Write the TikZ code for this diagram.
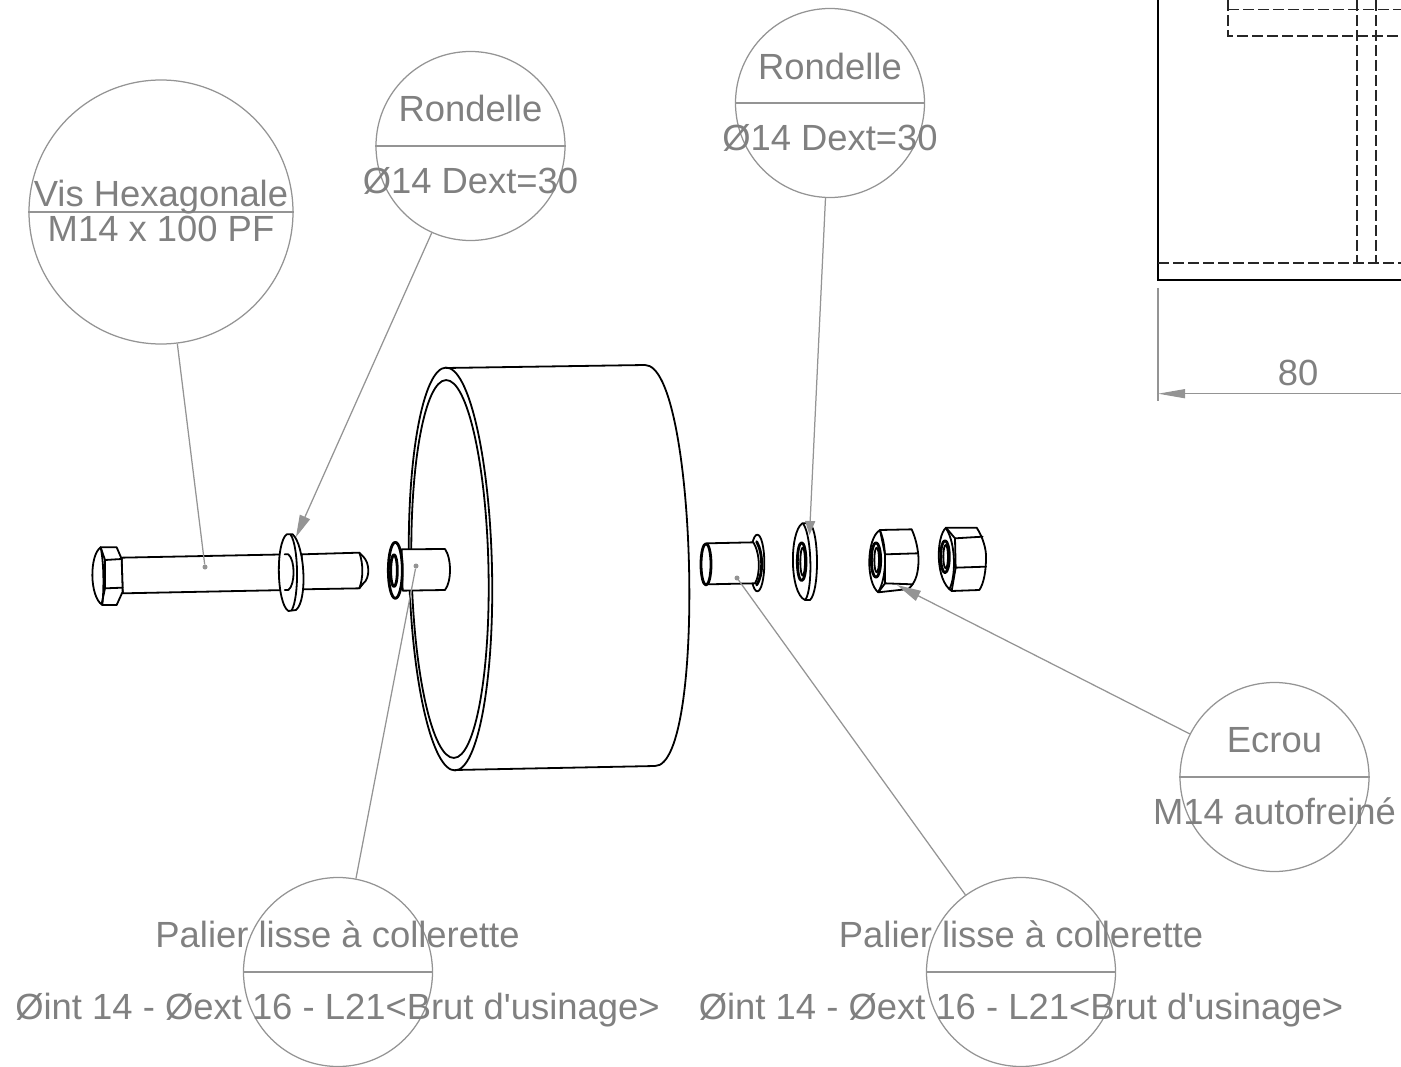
\documentclass[tikz,border=0pt]{standalone}
\usepackage{fontspec}
\setmainfont{Liberation Sans}
\usetikzlibrary{arrows.meta}
\definecolor{leadgrey}{HTML}{949494}
\definecolor{txtgrey}{HTML}{808080}
\tikzset{
  lead/.style={draw=leadgrey,line width=1.25pt},
  tiplead/.style={lead,-{Triangle[length=22pt,width=11pt,fill=leadgrey]}},
  bubble/.style={circle,draw=leadgrey,line width=1.25pt,inner sep=0pt,minimum size=#1},
  txt/.style={text=txtgrey,font=\fontsize{36.4}{36.4}\selectfont,anchor=base,inner sep=0pt},
  dotmark/.style={circle,fill=leadgrey,inner sep=0pt,minimum size=5pt},
  part/.style={draw=black,line width=1.8pt,line join=round,line cap=round},
  partf/.style={part,fill=white},
  heavy/.style={part,line width=2.8pt},
  hidden/.style={draw=black!85,line width=1.3pt,dash pattern=on 11pt off 4pt},
  zoomA/.style={shift={(80,500)},x=0.33333pt,y=-0.33333pt},
  zoomB/.style={shift={(690,500)},x=0.33333pt,y=-0.33333pt},
}
\begin{document}
\begin{tikzpicture}[x=1pt,y=-1pt]
\useasboundingbox (0,0) rectangle (1401,1067);
% ---- bubbles
\node[bubble=264pt] (cV) at (161,212) {};
\node[bubble=189pt] (cR1) at (470.5,146) {};
\node[bubble=189pt] (cR2) at (830,103) {};
\node[bubble=189pt] (cE) at (1274.5,777) {};
\node[bubble=189pt] (cP1) at (338,972) {};
\node[bubble=189pt] (cP2) at (1021,972) {};
\draw[lead] (cV.west) -- (cV.east);
\draw[lead] (cR1.west) -- (cR1.east);
\draw[lead] (cR2.west) -- (cR2.east);
\draw[lead] (cE.west) -- (cE.east);
\draw[lead] (cP1.west) -- (cP1.east);
\draw[lead] (cP2.west) -- (cP2.east);
% ---- arrow running under the washer
\coordinate (tR1) at (296,537);
\draw[tiplead] (cR1) -- (tR1);
% ---- drum
\draw[part] (446,368) -- (645,365) .. controls (697,365) and (707,766) .. (655,766) -- (455,770);
\draw[part] (450.5,569) ellipse [x radius=41.5,y radius=201.5,rotate=1.3];
\draw[part] (450,569) ellipse [x radius=38.5,y radius=189,rotate=1.2];
% ---- bolt
\begin{scope}[zoomA]
  \path[partf] (125,173) -- (625,163) -- (625,270) -- (128,280) -- cycle;
  \path[partf] (62,142) -- (110,142) -- (125,177) -- (128,275) -- (110,315) -- (67,315)
     .. controls (28,290) and (28,165) .. (62,142) -- cycle;
  \draw[part] (62,142) -- (75,180) -- (125,177);
  \draw[part] (75,180) -- (75,265) -- (128,263);
  \draw[part] (75,265) -- (65,312);
  \draw[part] (62,142) .. controls (72,190) and (72,265) .. (67,315);
  % shank end
  \path[partf] (665,163) -- (838,158) -- (850,170) .. controls (870,190) and (870,235) .. (850,250) -- (838,265) -- (665,268) -- cycle;
  \draw[part] (838,158) .. controls (850,190) and (850,235) .. (838,265);
  % washer
  \path[partf] (620,103) -- (638,103) .. controls (674,135) and (684,300) .. (648,330) -- (625,333)
     .. controls (590,310) and (586,130) .. (620,103) -- cycle;
  \draw[part] (632,104) .. controls (656,140) and (658,290) .. (635,331);
  \draw[part] (614,163) -- (625,163) .. controls (646,180) and (646,255) .. (625,270) -- (614,270);
  % left bearing
  \path[partf] (965,148) -- (1095,147) .. controls (1115,175) and (1115,245) .. (1095,270) -- (968,272) -- cycle;
  \draw[heavy,fill=white] (946,211) ellipse [x radius=21,y radius=84];
  \draw[heavy] (942,212) ellipse [x radius=10,y radius=48];
\end{scope}
% ---- right bearing, washer, nuts
\begin{scope}[zoomB]
  \draw[partf] (202,189) ellipse [x radius=21,y radius=85];
  \draw[heavy] (200,125) .. controls (220,160) and (220,225) .. (200,255);
  \path[partf] (50,130) -- (190,127) .. controls (211,160) and (211,225) .. (195,250) -- (53,253) -- cycle;
  \draw[heavy,fill=white] (48,193) ellipse [x radius=15,y radius=62];
  % washer
  \path[partf] (337,70) -- (360,70) .. controls (388,100) and (388,275) .. (360,300) -- (345,300)
      .. controls (298,280) and (298,95) .. (337,70) -- cycle;
  \draw[part] (340,72) .. controls (366,110) and (368,265) .. (347,298);
  \draw[heavy] (335,185) ellipse [x radius=13,y radius=57];
  \draw[part] (338,185) ellipse [x radius=7,y radius=42];
  % nut 1
  \path[partf] (570,90) -- (665,88) .. controls (680,120) and (688,165) .. (685,195)
     .. controls (683,225) and (675,250) .. (655,267) -- (565,277)
     .. controls (528,250) and (528,115) .. (570,90) -- cycle;
  \draw[part] (570,90) -- (585,163) -- (682,160);
  \draw[part] (585,163) -- (585,250) -- (565,277);
  \draw[part] (585,250) -- (668,253);
  \draw[part] (570,92) .. controls (592,140) and (590,235) .. (565,275);
  \draw[heavy] (558,180) ellipse [x radius=14,y radius=52];
  \draw[part] (560,180) ellipse [x radius=7,y radius=37];
  % nut 2
  \path[partf] (768,83) -- (860,83) .. controls (878,110) and (890,150) .. (888,175)
     .. controls (888,210) and (882,250) .. (868,270) -- (785,273)
     .. controls (735,240) and (738,110) .. (768,83) -- cycle;
  \draw[part] (768,83) -- (795,115) -- (878,110);
  \draw[part] (795,115) -- (797,203) -- (888,200);
  \draw[part] (797,203) -- (785,273);
  \draw[part] (768,85) .. controls (798,130) and (798,230) .. (778,268);
  \draw[heavy] (765,170) ellipse [x radius=13,y radius=48];
  \draw[part] (767,170) ellipse [x radius=7,y radius=35];
\end{scope}
% ---- top right view
\draw[draw=black,line width=2pt] (1158,0) -- (1158,280) -- (1401,280);
\draw[hidden] (1158,263) -- (1401,263);
\draw[hidden] (1228,0) -- (1228,36) -- (1401,36);
\draw[hidden] (1228,9.5) -- (1401,9.5);
\draw[hidden] (1357,0) -- (1357,263);
\draw[hidden] (1376,0) -- (1376,263);
% ---- dimension
\coordinate (dimL) at (1158,393.7);
\coordinate (dimR) at (1401,393.7);
\coordinate (extT) at (1158,288);
\coordinate (extB) at (1158,401);
\draw[lead] (extT) -- (extB);
\draw[lead,-{Triangle[length=27pt,width=9pt,fill=leadgrey]}] (dimR) -- (dimL);
\node[txt] (dimtxt) at (1298,385) {80};
% ---- leaders over the parts
\node[dotmark] (dV) at (205,567) {};
\node[dotmark] (dP1) at (416,566) {};
\node[dotmark] (dP2) at (737,578) {};
\coordinate (tE) at (897,585);
\coordinate (tR2) at (809.5,535);
\draw[lead] (cV) -- (dV);
\draw[lead] (cP1) -- (dP1);
\draw[lead] (cP2) -- (dP2);
\draw[lead,-{Triangle[length=14pt,width=10pt,fill=leadgrey]}] (cR2) -- (tR2);
\draw[lead,-{Triangle[length=24pt,width=11pt,fill=leadgrey]}] (cE) -- (tE);
% ---- texts
\node[txt] (t1) at (161,206.5) {Vis Hexagonale};
\node[txt] (t2) at (161,241.5) {M14 x 100 PF};
\node[txt] (t3) at (470.5,121.5) {Rondelle};
\node[txt] (t4) at (470.5,193.5) {Ø14 Dext=30};
\node[txt] (t5) at (830,79.5) {Rondelle};
\node[txt] (t6) at (830,150.5) {Ø14 Dext=30};
\node[txt] (t7) at (1274.5,752) {Ecrou};
\node[txt] (t8) at (1274.5,824) {M14 autofreiné};
\node[txt] (t9) at (337.5,947) {Palier lisse à collerette};
\node[txt] (t10) at (337.5,1019.5) {Øint 14 - Øext 16 - L21<Brut d\textquotesingle usinage>};
\node[txt] (t11) at (1021,947) {Palier lisse à collerette};
\node[txt] (t12) at (1021,1019.5) {Øint 14 - Øext 16 - L21<Brut d\textquotesingle usinage>};
\end{tikzpicture}
\end{document}
